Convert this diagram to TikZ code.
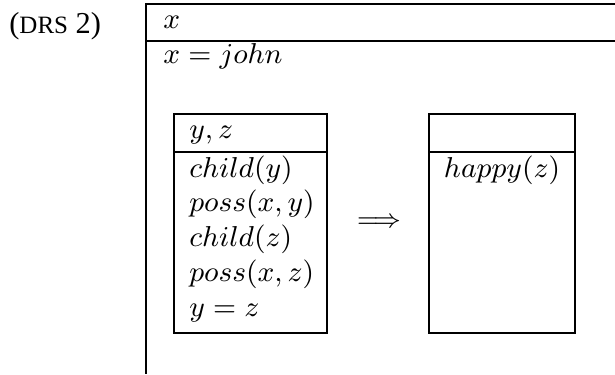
\documentclass[tikz,border=0pt]{standalone}
\usepackage{amsmath}
\usepackage{fontspec}
\newfontfamily\labfont{Liberation Serif}
\usetikzlibrary{positioning}

\begin{document}
\begin{tikzpicture}[x=0.3125pt,y=-0.3125pt,line width=0.85pt,
  txt/.style={inner sep=0pt,anchor=base west,font=\fontsize{9}{11}\selectfont}]
\useasboundingbox (0,0) rectangle (615,374);

% example label
\node[inner sep=0pt,anchor=base west,font=\labfont\fontsize{9.5}{11}\selectfont] (lab) at (8,33)
  {(\fontsize{7.8}{9}\selectfont DRS\fontsize{9.5}{11}\selectfont\ 2)};

% outer DRS (open at right and bottom)
\draw (615,4) -- (146,4) -- (146,374);
\draw (146,41) -- (615,41);
\node[txt] (univ) at (162,28) {$x$};
\node[txt] (john) at (162,63) {$x = john$};

% antecedent box
\draw (174,114) rectangle (327,333);
\draw (174,152) -- (327,152);
\node[txt] (ante) at (188,138) {$y, z$};
\foreach \c [count=\i] in {{child(y)}, {poss(x,y)}, {child(z)}, {poss(x,z)}, {y = z}}
  \node[txt] (cond\i) at (188,177+34.75*\i-34.75) {$\c$};

% implication
\node[inner sep=0pt,font=\fontsize{8}{10}\selectfont] (impl) at (379,223) {$\Longrightarrow$};

% consequent box
\draw (429,114) rectangle (575,333);
\draw (429,152) -- (575,152);
\node[txt,anchor=base] (cons) at (502,177) {$happy(z)$};
\end{tikzpicture}
\end{document}
